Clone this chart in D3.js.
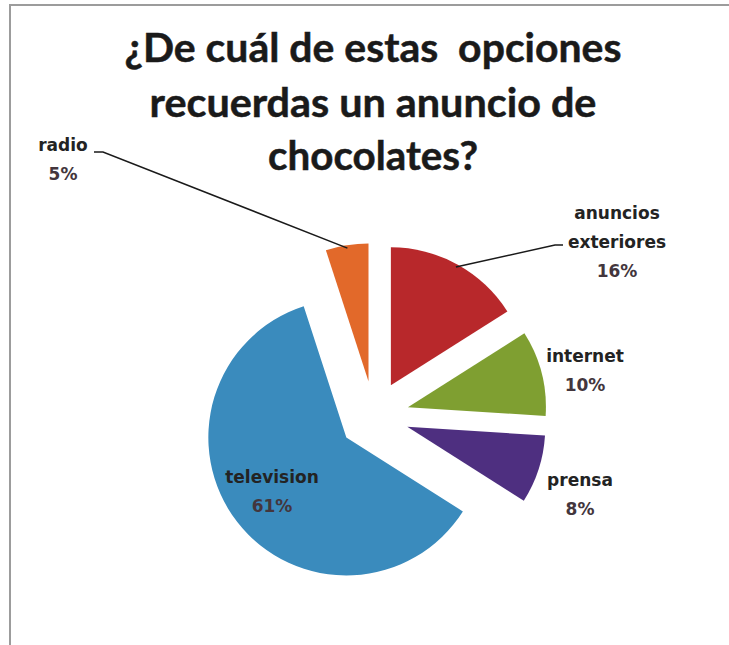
<!DOCTYPE html>
<html>
<head>
<meta charset="utf-8">
<script src="https://cdn.jsdelivr.net/npm/d3@7"></script>
<style>
  html, body { margin: 0; padding: 0; background: #fff; }
  svg { display: block; }
</style>
</head>
<body>
<script>
// Survey answers: where respondents remember seeing a chocolate ad
const categories = ["anuncios exteriores", "internet", "prensa", "television", "radio"];
const values = [16, 10, 8, 61, 5];
const sliceColors = ["#b8282b", "#7f9f31", "#4e2f80", "#3a8bbd", "#e2692a"];
const labelNames = [["anuncios", "exteriores"], ["internet"], ["prensa"], ["television"], ["radio"]];
const titleLines = ["¿De cuál de estas  opciones", "recuerdas un anuncio de", "chocolates?"];
const titleWidths = [497, 447, 210];

const W = 729, H = 645;
const cx = 374, cy = 416, radius = 138, explode = 35;

// label anchor (centre of first line, baseline) relative to pie centre
const labelLayout = {
  "anuncios exteriores": { dx: 243, dy: -197, leader: [[189, -171], [181, -171]] },
  "internet": { dx: 211, dy: -54 },
  "prensa": { dx: 206, dy: 70 },
  "television": { dx: -102, dy: 67 },
  "radio": { dx: -311, dy: -265, leader: [[-280, -264], [-271, -264]] }
};

const svg = d3.select("body").append("svg")
  .attr("width", W).attr("height", H);

// chart frame
svg.append("path")
  .attr("d", `M10,${H} L10,5 L${W},5`)
  .attr("fill", "none")
  .attr("stroke", "#9c9c9c")
  .attr("stroke-width", 2);

// title: each line condensed horizontally to its set width
const titleX = 373;
svg.append("g").selectAll("text")
  .data(titleLines)
  .join("text")
  .attr("x", 0)
  .attr("y", 0)
  .attr("text-anchor", "middle")
  .attr("font-family", "Lato, sans-serif")
  .attr("font-weight", 700)
  .attr("font-size", 40)
  .attr("fill", "#1a1a1a")
  .attr("stroke", "#1a1a1a")
  .attr("stroke-width", 0.5)
  .style("white-space", "pre")
  .text(d => d)
  .each(function (d, i) {
    const natural = this.getComputedTextLength();
    const sx = titleWidths[i] / natural;
    d3.select(this).attr("transform",
      `translate(${titleX},${[62, 117, 170][i]}) scale(${sx},1)`);
  });

const pie = d3.pie().sort(null).value(d => d.value).startAngle(0).endAngle(2 * Math.PI);
const data = categories.map((c, i) => ({ name: c, value: values[i], color: sliceColors[i], lines: labelNames[i] }));
const arcs = pie(data);
const arc = d3.arc().innerRadius(0).outerRadius(radius);

const total = d3.sum(values);
const midDir = a => {
  const m = (a.startAngle + a.endAngle) / 2;
  return [Math.sin(m), -Math.cos(m)];
};

const g = svg.append("g").attr("transform", `translate(${cx},${cy})`);

g.selectAll("path.slice")
  .data(arcs)
  .join("path")
  .attr("class", "slice")
  .attr("d", arc)
  .attr("fill", d => d.data.color)
  .attr("transform", d => {
    const [ux, uy] = midDir(d);
    return `translate(${ux * explode},${uy * explode})`;
  });

// leader lines from outer arc midpoint to the label
arcs.forEach(d => {
  const lay = labelLayout[d.data.name];
  if (!lay.leader) return;
  const [ux, uy] = midDir(d);
  const px = ux * (explode + radius - 3), py = uy * (explode + radius - 3);
  const pts = [[px, py], ...lay.leader.slice().reverse()];
  g.append("path")
    .attr("d", d3.line()(pts))
    .attr("fill", "none")
    .attr("stroke", "#1a1a1a")
    .attr("stroke-width", 1.5);
});

// labels
const labelG = g.selectAll("g.label")
  .data(arcs)
  .join("g")
  .attr("class", "label")
  .attr("transform", d => {
    const lay = labelLayout[d.data.name];
    return `translate(${lay.dx},${lay.dy})`;
  });

labelG.each(function (d) {
  const sel = d3.select(this);
  const lines = d.data.lines.concat([Math.round(d.data.value / total * 100) + "%"]);
  sel.selectAll("text")
    .data(lines)
    .join("text")
    .attr("x", 0)
    .attr("y", (t, i) => i * 29)
    .attr("text-anchor", "middle")
    .attr("font-family", "'DejaVu Sans', sans-serif")
    .attr("font-weight", 700)
    .attr("font-size", 17)
    .attr("fill", (t, i) => i === lines.length - 1 ? "#43363d" : "#232323")
    .text(t => t);
});
</script>
</body>
</html>
